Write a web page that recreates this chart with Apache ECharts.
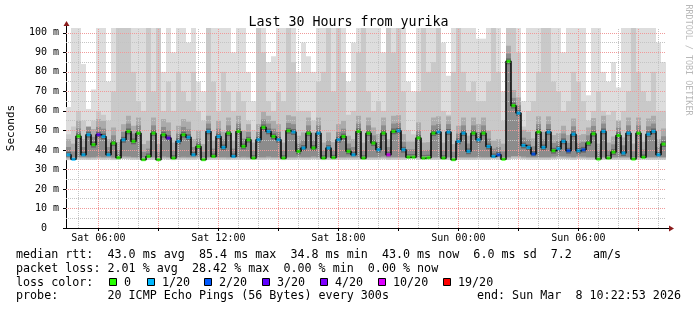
<!DOCTYPE html>
<html><head><meta charset="utf-8">
<script src="https://cdn.jsdelivr.net/npm/echarts@6/dist/echarts.min.js"></script>
<style>html,body{margin:0;padding:0;background:#fff}#c{width:697px;height:310px}</style>
</head><body><div id="c"></div>
<script>
// ---- time frame (hours since Sat 00:00) ----
const START_H = 4 + 22/60 + 53/3600;   // Sat 04:22:53
const END_H = START_H + 30;            // Sun 10:22:53
const STEP_H = 0.25;                   // one sample column = 15 min
const Y_MAX = 102.48;                  // upper limit (ms)

// ---- median rtt per column (ms) ----
const MED = [
 37.5,35.2,47,37.5,47.8,42.7,47.8,46.9,37.5,43.5,
 36,45.2,49.5,44.4,48.6,35,36.7,48.6,35,47.8,
 46.1,35.8,44.4,47.8,46.5,37.5,41.8,35,49.5,36.7,
 46.9,41.3,48.6,36.7,49.5,41.8,45.2,35.8,45.2,51.6,
 49.5,46.9,45.2,35.8,49.8,49.2,39.3,41,48.6,41,
 48.6,35.8,41,36,45.2,46.9,39.3,37.5,49.5,35.8,
 48.6,43.5,40.1,48.6,37.5,49.5,49.8,40.1,36.3,36.3,
 46.1,35.8,36,48.6,49.2,35.8,49.2,35,44.4,48.6,
 39.3,48.6,45.2,48.6,41.8,36.7,37.5,35.2,85.4,62.7,
 58.9,42.3,41.3,37.9,49.2,41.3,49.2,39.6,40.6,44.4,
 39.6,48.1,39.6,40.1,43.5,48.3,35.3,49.5,35.8,38.9,
 47.4,38.4,48.6,35.3,48.6,36.2,48.1,49.5,37.5,43.0
];
// ---- lost pings (of 20) per column ----
const LOSS = [
 1,1,0,1,1,0,3,1,1,0,
 0,1,0,0,0,0,0,0,0,0,
 3,0,1,0,1,1,0,0,1,0,
 1,1,0,1,0,0,0,0,1,0,
 1,0,1,0,0,1,0,1,0,0,
 1,0,1,0,1,0,0,1,0,0,
 0,0,1,0,10,0,1,1,0,0,
 0,0,0,0,1,0,1,0,1,1,
 1,0,1,0,1,1,2,0,0,0,
 1,1,1,2,0,1,1,0,1,1,
 2,1,1,2,0,0,0,1,0,0,
 0,1,1,0,0,0,1,1,1,0
];
// ---- smoke: lowest ping, upper edge of inner band, highest ping (ms) ----
const LO = [
 34.8,34.9,35,35,34.9,35,35.2,35,35.1,34.8,
 35,35.3,35.2,35,34.9,34.8,35,35,34.9,35.2,
 35,34.8,35,35.1,35,35,35.2,34.8,35,35,
 35,35,34.9,35,35,35.1,35,34.9,35,35,
 35.2,35,35,34.8,35,35,35.1,35,35,35.2,
 35,34.8,35,35,35,35,35.1,35,35,34.9,
 35,35,35,35.2,34.9,35,35,35,35.4,35.5,
 35,35.1,35.2,35,35,34.9,35,34.8,35,35,
 35,35,35.1,35,35,35.2,35,34.9,35,35.5,
 35.5,35.2,35,35,35,35,35,35.2,35.4,35.3,
 35.2,35,35.3,35.2,35,35,34.9,35,35.1,35,
 35,35,35,34.9,35,35.1,35,35,35,35
];
const MID = [
 48,52,60,55,52,55,60,58,55,70,
 103,103,103,80,65,60,103,70,103,60,
 75,60,80,70,65,80,60,55,103,75,
 60,80,70,60,70,65,55,50,103,90,
 65,60,70,65,103,85,60,60,60,55,
 75,80,103,70,103,80,58,60,90,103,
 70,60,65,60,103,90,103,70,50,48,
 70,103,80,85,103,60,58,80,103,80,
 70,75,65,65,75,103,80,55,103,103,
 90,52,60,65,80,103,103,75,70,60,
 65,80,75,65,55,60,70,60,58,60,
 55,60,70,103,80,70,65,80,60,60
];
const TOP = [
 62,103,103,84,61,71,103,103,75,103,
 103,103,103,103,103,103,103,103,103,80,
 103,90,103,103,95,103,75,70,103,103,
 103,103,103,90,103,103,80,65,103,103,
 85,88,103,103,103,103,80,95,88,80,
 103,103,103,103,103,103,75,95,103,103,
 103,103,103,90,103,103,103,103,75,70,
 103,103,103,103,103,95,78,103,103,103,
 103,103,97,97,103,103,103,70,103,103,
 103,65,103,103,103,103,103,103,103,90,
 103,103,103,103,68,103,103,80,75,85,
 72,103,103,103,103,103,103,103,95,85
];

// ---- axes / grid values ----
const X_LABEL_HOURS = [6,12,18,24,30];
const X_LABELS = ['Sat 06:00','Sat 12:00','Sat 18:00','Sun 00:00','Sun 06:00'];
const X_MAJOR_HOURS = [6,9,12,15,18,21,24,27,30,33];
const X_MINOR_HOURS = [5,7,8,10,11,13,14,16,17,19,20,22,23,25,26,28,29,31,32,34];
const Y_MAJOR = [10,20,30,40,50,60,70,80,90,100];
const Y_MINOR = [5,15,25,35,45,55,65,75,85,95];
const Y_LABEL_VALUES = [0,10,20,30,40,50,60,70,80,90,100];

// ---- legend texts ----
const LOSS_LEVELS = ['0','1/20','2/20','3/20','4/20','10/20','19/20'];
const LOSS_COLORS = ['#26ff00','#00b8ff','#0059ff','#5e00ff','#7e00ff','#dd00ff','#ff0000'];
const LINE_RTT = 'median rtt:  43.0 ms avg  85.4 ms max  34.8 ms min  43.0 ms now  6.0 ms sd  7.2   am/s';
const LINE_LOSS = 'packet loss: 2.01 % avg  28.42 % max  0.00 % min  0.00 % now';
const LINE_PROBE = 'probe:       20 ICMP Echo Pings (56 Bytes) every 300s';
const LINE_END = 'end: Sun Mar  8 10:22:53 2026';
const TITLE = 'Last 30 Hours from yurika';

const MONO = "'DejaVu Sans Mono', monospace";
function lossColor(n){
  if (n <= 3) return LOSS_COLORS[n];
  if (n < 10) return LOSS_COLORS[4];
  if (n < 19) return LOSS_COLORS[5];
  return LOSS_COLORS[6];
}
const tAt = i => START_H + (i + 0.5) * STEP_H;

const smokeData = MED.map((m,i) => [tAt(i), LO[i], MID[i], TOP[i], m]);
const medData = MED.map((m,i) => [tAt(i), m]);
const dotData = MED.map((m,i) => [tAt(i), m, LOSS[i]]);

const minorStyle = {color:'#c4c4c4', type:[1,1], width:1};
const majorStyle = {color:'#f09a9a', type:[1,1], width:1};
const gridLines = [
  ...X_MINOR_HOURS.map(h => ({xAxis:h, lineStyle:minorStyle})),
  ...Y_MINOR.map(v => ({yAxis:v, lineStyle:minorStyle})),
  ...X_MAJOR_HOURS.map(h => ({xAxis:h, lineStyle:majorStyle})),
  ...Y_MAJOR.map(v => ({yAxis:v, lineStyle:majorStyle}))
];

const G_LEFT = 66, G_TOP = 28, G_W = 600, G_H = 200;

const graphics = [
  {type:'text', x:11, y:128, rotation:Math.PI/2,
   style:{text:'Seconds', font:'11px '+MONO, fill:'#000', align:'center', verticalAlign:'middle'}},
  {type:'text', x:688, y:60, rotation:-Math.PI/2,
   style:{text:'RRDTOOL / TOBI OETIKER', font:'8.4px '+MONO, fill:'#b8b8b8', align:'center', verticalAlign:'middle'}},
  {type:'text', x:16, y:255, style:{text:LINE_RTT, font:'11.7px '+MONO, fill:'#000', verticalAlign:'middle'}},
  {type:'text', x:16, y:268.5, style:{text:LINE_LOSS, font:'11.7px '+MONO, fill:'#000', verticalAlign:'middle'}},
  {type:'text', x:16, y:282.5, style:{text:'loss color:', font:'11.7px '+MONO, fill:'#000', verticalAlign:'middle'}},
  {type:'text', x:16, y:296, style:{text:LINE_PROBE, font:'11.7px '+MONO, fill:'#000', verticalAlign:'middle'}},
  {type:'text', x:681, y:296, style:{text:LINE_END, font:'11.7px '+MONO, fill:'#000', align:'right', verticalAlign:'middle'}},
  // axis arrows
  {type:'line', shape:{x1:G_LEFT+0.5, y1:G_TOP, x2:G_LEFT+0.5, y2:G_TOP-4}, style:{stroke:'#000', lineWidth:1}},
  {type:'polygon', shape:{points:[[G_LEFT-2.5,G_TOP-2],[G_LEFT+3.5,G_TOP-2],[G_LEFT+0.5,G_TOP-7]]}, style:{fill:'#8b1c1c'}},
  {type:'line', shape:{x1:G_LEFT+G_W, y1:G_TOP+G_H+0.5, x2:G_LEFT+G_W+4, y2:G_TOP+G_H+0.5}, style:{stroke:'#000', lineWidth:1}},
  {type:'polygon', shape:{points:[[G_LEFT+G_W+3,G_TOP+G_H-2.5],[G_LEFT+G_W+3,G_TOP+G_H+3.5],[G_LEFT+G_W+8,G_TOP+G_H+0.5]]}, style:{fill:'#8b1c1c'}}
];
// loss colour legend boxes
const BOX_X = [109,147,204,262,320,378,443];
LOSS_LEVELS.forEach((lv,k) => {
  graphics.push({type:'rect', shape:{x:BOX_X[k]+0.5, y:278.5, width:7, height:7},
    style:{fill:LOSS_COLORS[k], stroke:'#000', lineWidth:1}});
  graphics.push({type:'text', x:BOX_X[k]+15, y:282.5,
    style:{text:lv, font:'11.7px '+MONO, fill:'#000', verticalAlign:'middle'}});
});

const chart = echarts.init(document.getElementById('c'), null, {renderer:'canvas'});
chart.setOption({
  animation:false,
  backgroundColor:'#fff',
  title:{text:TITLE, left:'center', top:11, textStyle:{fontFamily:MONO, fontSize:13.3, fontWeight:'normal', color:'#000'}},
  grid:{left:G_LEFT, top:G_TOP, width:G_W, height:G_H, containLabel:false},
  xAxis:{type:'value', min:START_H, max:END_H,
    axisLine:{show:true, lineStyle:{color:'#000', width:1}},
    axisTick:{show:true, customValues:X_MAJOR_HOURS, length:3, lineStyle:{color:'#000'}},
    axisLabel:{customValues:X_LABEL_HOURS, margin:5, fontFamily:MONO, fontSize:10, color:'#000',
      formatter:v => X_LABELS[X_LABEL_HOURS.indexOf(v)] || ''},
    splitLine:{show:false}},
  yAxis:{type:'value', min:0, max:Y_MAX,
    axisLine:{show:true, lineStyle:{color:'#000', width:1}},
    axisTick:{show:true, customValues:Y_LABEL_VALUES, length:3, lineStyle:{color:'#000'}},
    axisLabel:{customValues:Y_LABEL_VALUES, margin:7, fontFamily:MONO, fontSize:10, color:'#000',
      formatter:v => v === 0 ? '0  ' : v + ' m'},
    splitLine:{show:false}},
  graphic:graphics,
  series:[
    {type:'custom', z:1, clip:true, data:smokeData, encode:{x:0, y:[1,2,3,4]},
     renderItem:(params, api) => {
       const t = api.value(0), lo = api.value(1), mid = api.value(2), top = api.value(3), med = api.value(4);
       const x0 = api.coord([t - STEP_H/2, 0])[0], x1 = api.coord([t + STEP_H/2, 0])[0];
       const y = v => api.coord([t, Math.min(v, Y_MAX + 1)])[1];
       const rect = (a, b, fill) => ({type:'rect', shape:{x:x0, y:y(b), width:x1 - x0, height:y(a) - y(b)}, style:{fill}});
       return {type:'group', children:[
         rect(lo, top, '#dddddd'),
         rect(lo, mid, '#c9c9c9'),
         rect(lo + 0.8, Math.min(mid, med + 8), '#ababab'),
         rect(lo + 1.4, med + 4, '#8c8c8c'),
         rect(Math.max(lo + 1.8, med - 1.5), med + 1.5, '#666666')
       ]};
     }},
    {type:'line', z:5, data:[], silent:true,
     markLine:{silent:true, symbol:['none','none'], label:{show:false}, animation:false, data:gridLines}},
    {type:'line', z:10, data:medData, step:'middle', showSymbol:false, silent:true,
     lineStyle:{color:'#000', width:1.5}},
    {type:'scatter', z:11, data:dotData, symbol:'rect', symbolSize:[4,3], silent:true,
     itemStyle:{color:p => lossColor(p.value[2])}}
  ]
});
</script>
</body></html>
